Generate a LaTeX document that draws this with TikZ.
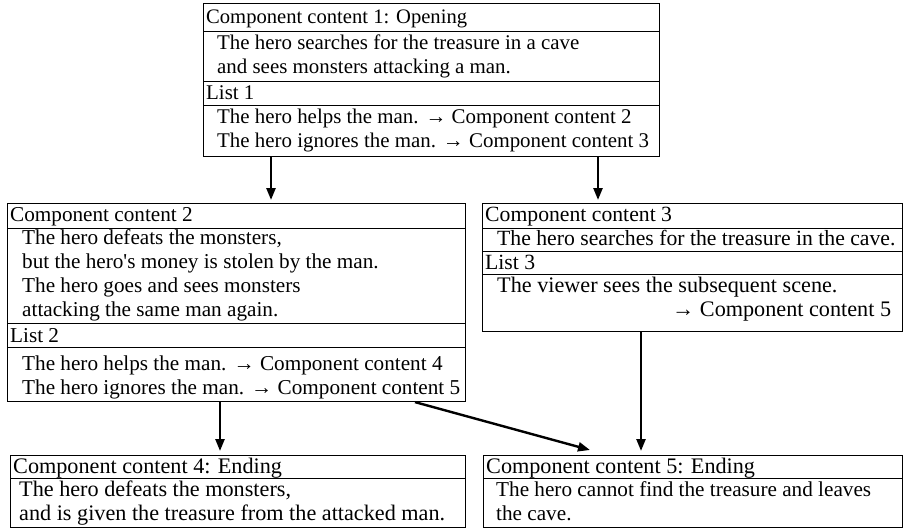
\documentclass[tikz,border=0pt]{standalone}
\usepackage{fontspec}
\setmainfont{Liberation Serif}
\usetikzlibrary{arrows.meta}

\tikzset{
  row/.style={draw, line width=1.1pt, anchor=north west, inner sep=0pt},
  txt/.style={anchor=north west, inner sep=0pt, align=left,
    font=\fontsize{#1}{24}\selectfont, execute at begin node=\rule{0pt}{18pt}},
  txt/.default=21.5,
  flow/.style={-{Triangle[length=12pt,width=9pt]}, line width=2.4pt},
}

\begin{document}
\begin{tikzpicture}[x={(1pt,0pt)}, y={(0pt,-1pt)}]

 \useasboundingbox (0,0) rectangle (904,531);

 %%%%%%%%%% Component content 1 %%%%%%%%%%
 \node[row, minimum width=456, minimum height=28] (c1head)  at (203,3)   {};
 \node[row, minimum width=456, minimum height=50] (c1story) at (203,31)  {};
 \node[row, minimum width=456, minimum height=24] (c1list)  at (203,81)  {};
 \node[row, minimum width=456, minimum height=51] (c1opts)  at (203,105) {};

 \node[txt=20.6] (t1head)  at ([xshift=3, yshift=-2]c1head.north west)   {Component content 1: Opening};
 \node[txt=20.9] (t1story) at ([xshift=14, yshift=-4]c1story.north west) {The hero searches for the treasure in a cave\\and sees monsters attacking a man.};
 \node[txt=20.9] (t1list)  at ([xshift=3]c1list.north west)              {List 1};
 \node[txt=20.9] (t1opts)  at ([xshift=14, yshift=-4]c1opts.north west)  {The hero helps the man. → Component content 2\\The hero ignores the man. → Component content 3};

 %%%%%%%%%% Component content 2 %%%%%%%%%%
 \node[row, minimum width=458, minimum height=25] (c2head)  at (7,203) {};
 \node[row, minimum width=458, minimum height=95] (c2story) at (7,228) {};
 \node[row, minimum width=458, minimum height=24] (c2list)  at (7,323) {};
 \node[row, minimum width=458, minimum height=54] (c2opts)  at (7,347) {};

 \node[txt=21.2] (t2head)  at ([xshift=3]c2head.north west)              {Component content 2};
 \node[txt=21.2] (t2story) at ([xshift=15, yshift=-1]c2story.north west) {The hero defeats the monsters,\\but the hero\textquotesingle s money is stolen by the man.\\The hero goes and sees monsters\\attacking the same man again.};
 \node[txt=21.2] (t2list)  at ([xshift=3, yshift=-1]c2list.north west)   {List 2};
 \node[txt=21.2] (t2opts)  at ([xshift=15, yshift=-9]c2opts.north west)  {The hero helps the man. → Component content 4\\The hero ignores the man. → Component content 5};

 %%%%%%%%%% Component content 3 %%%%%%%%%%
 \node[row, minimum width=420, minimum height=25] (c3head)  at (482,203) {};
 \node[row, minimum width=420, minimum height=23] (c3story) at (482,228) {};
 \node[row, minimum width=420, minimum height=23] (c3list)  at (482,251) {};
 \node[row, minimum width=420, minimum height=57] (c3opts)  at (482,274) {};

 \node[txt=21.7] (t3head)  at ([xshift=3]c3head.north west)             {Component content 3};
 \node[txt=21.7] (t3story) at ([xshift=15, yshift=1]c3story.north west) {The hero searches for the treasure in the cave.};
 \node[txt=21.7] (t3list)  at ([xshift=3]c3list.north west)             {List 3};
 \node[txt=22.2] (t3opts)  at ([xshift=15, yshift=-3]c3opts.north west) {The viewer sees the subsequent scene.\\\hspace*{175pt}→ Component content 5};

 %%%%%%%%%% Endings %%%%%%%%%%
 \node[row, minimum width=455, minimum height=23] (c4head)  at (10,455) {};
 \node[row, minimum width=455, minimum height=49] (c4story) at (10,478) {};
 \node[row, minimum width=419, minimum height=23] (c5head)  at (483,455) {};
 \node[row, minimum width=419, minimum height=49] (c5story) at (483,478) {};

 \node[txt=22.2] (t4head)  at ([xshift=3]c4head.north west)             {Component content 4: Ending};
 \node[txt=22.2] (t4story) at ([xshift=9, yshift=-3]c4story.north west) {The hero defeats the monsters,\\and is given the treasure from the attacked man.};
 \node[txt=22.2] (t5head)  at ([xshift=3]c5head.north west)             {Component content 5: Ending};
 \node[txt=21.2] (t5story) at ([xshift=13, yshift=-3]c5story.north west) {The hero cannot find the treasure and leaves\\the cave.};

 %%%%%%%%%%% Arrows %%%%%%%%%%%
 \draw[flow] ([xshift=68]c1opts.south west)  -- ([xshift=264, yshift=3]c2head.north west);
 \draw[flow] ([xshift=395]c1opts.south west) -- ([xshift=116, yshift=3]c3head.north west);
 \draw[flow] ([xshift=213]c2opts.south west)  -- ([xshift=210, yshift=4]c4head.north west);
 \draw[flow] ([xshift=408]c2opts.south west)  -- ([xshift=107, yshift=5]c5head.north west);
 \draw[flow] ([xshift=159]c3opts.south west)  -- ([xshift=158, yshift=4]c5head.north west);

\end{tikzpicture}
\end{document}
